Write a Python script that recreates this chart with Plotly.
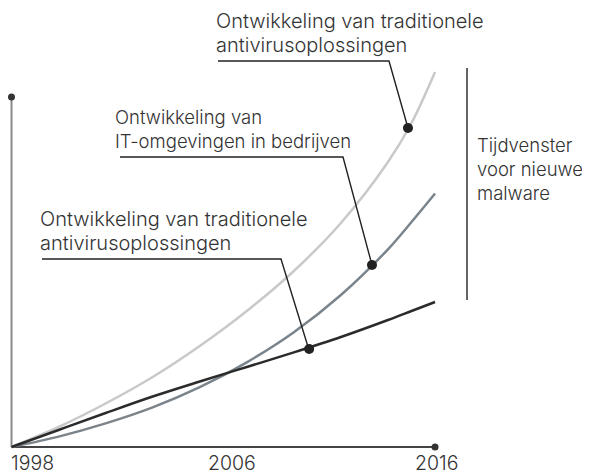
import plotly.graph_objects as go

# ---- data (arbitrary units) ----
years = [1998, 2000, 2002, 2004, 2006, 2008, 2010, 2012, 2014, 2015, 2016]
antivirus_upper = [0, 20, 43.5, 70, 101, 136, 176, 224, 285, 324, 375]
it_environments = [0, 10.4, 23.6, 39.6, 59.8, 84.7, 114.8, 152, 197.7, 225, 253.5]
antivirus_lower = [0, 17, 34, 50.5, 65.5, 80, 94.6, 110, 127, 136, 145]

marker_years = [2014.85, 2013.32, 2010.65]
marker_values = [319, 182, 98]

tick_years = [1998, 2006, 2016]
tick_labels = ["1998", "2006", "2016"]

label_upper = ["Ontwikkeling van traditionele", "antivirusoplossingen"]
label_it = ["Ontwikkeling van", "IT-omgevingen in bedrijven"]
label_lower = ["Ontwikkeling van traditionele", "antivirusoplossingen"]
label_window = ["Tijdvenster", "voor nieuwe", "malware"]

# ---- layout geometry (page pixels) ----
W, H = 590, 475
PAGE_OFF = 8            # body margin of the page
X0_PX, PX_PER_YR = 11.5, 23.53
BASE_PY = 447


def xd(px):
    return 1998 + (px - X0_PX) / PX_PER_YR


def yd(py):
    return BASE_PY - py


FONT = "Inter"
TXT = "#333333"
DARK = "#222222"

fig = go.Figure()

# axes
fig.add_trace(go.Scatter(x=[1998, 1998], y=[0, yd(97)], mode="lines",
                         line=dict(color="#8a8a8a", width=2), hoverinfo="skip"))
fig.add_trace(go.Scatter(x=[1998, 2016], y=[0, 0], mode="lines",
                         line=dict(color="#444444", width=2), hoverinfo="skip"))
fig.add_trace(go.Scatter(x=[1998, 2016], y=[yd(97), 0], mode="markers",
                         marker=dict(color="#333333", size=7), hoverinfo="skip"))

# curves
for vals, col in [(antivirus_upper, "#c9c9c9"), (it_environments, "#7b848b"),
                  (antivirus_lower, "#2b2b2b")]:
    fig.add_trace(go.Scatter(x=years, y=vals, mode="lines",
                             line=dict(color=col, width=2.5, shape="spline", smoothing=1.0),
                             hoverinfo="skip"))

# leader lines
leaders = [
    [(218, 61), (389, 61), (408, 128)],
    [(120, 157), (343, 157), (372, 265)],
    [(42, 259), (281, 259), (309, 350)],
]
for pts in leaders:
    fig.add_trace(go.Scatter(x=[xd(p[0]) for p in pts], y=[yd(p[1]) for p in pts],
                             mode="lines", line=dict(color=DARK, width=1.4),
                             hoverinfo="skip"))

# dots
fig.add_trace(go.Scatter(x=marker_years, y=marker_values, mode="markers",
                         marker=dict(color=DARK, size=10), hoverinfo="skip"))

# window bar
fig.add_shape(type="line", x0=xd(467), x1=xd(467), y0=yd(68), y1=yd(300),
              xref="x", yref="y", line=dict(color=DARK, width=1.4))

annotations = []


def add_lines(lines, px, py_first, step, size):
    for i, t in enumerate(lines):
        annotations.append(dict(x=xd(px - 3), y=yd(py_first + i * step), xref="x", yref="y",
                                text=t, showarrow=False, xanchor="left", yanchor="middle",
                                font=dict(family=FONT, size=size, color=TXT, weight=300)))


add_lines(label_upper, 217, 21, 24, 20)
add_lines(label_it, 116, 117, 24, 18.5)
add_lines(label_lower, 41, 219, 24, 20)
add_lines(label_window, 478, 145, 24, 18.5)

tick_px = {1998: ("left", 12 - 3), 2006: ("center", 232), 2016: ("center", 436)}
for yr, lab in zip(tick_years, tick_labels):
    anchor, px = tick_px[yr]
    annotations.append(dict(x=xd(px), y=yd(462.5), xref="x", yref="y", text=lab,
                            showarrow=False, xanchor=anchor, yanchor="middle",
                            font=dict(family=FONT, size=19.5, color=TXT, weight=300)))

fig.update_layout(
    width=W, height=H, autosize=False,
    margin=dict(l=0, r=0, t=0, b=0),
    paper_bgcolor="white", plot_bgcolor="white",
    showlegend=False,
    xaxis=dict(range=[xd(PAGE_OFF), xd(PAGE_OFF + W)], visible=False, fixedrange=True),
    yaxis=dict(range=[yd(PAGE_OFF + H), yd(PAGE_OFF)], visible=False, fixedrange=True),
    annotations=annotations,
)

fig.write_html("out.html")
